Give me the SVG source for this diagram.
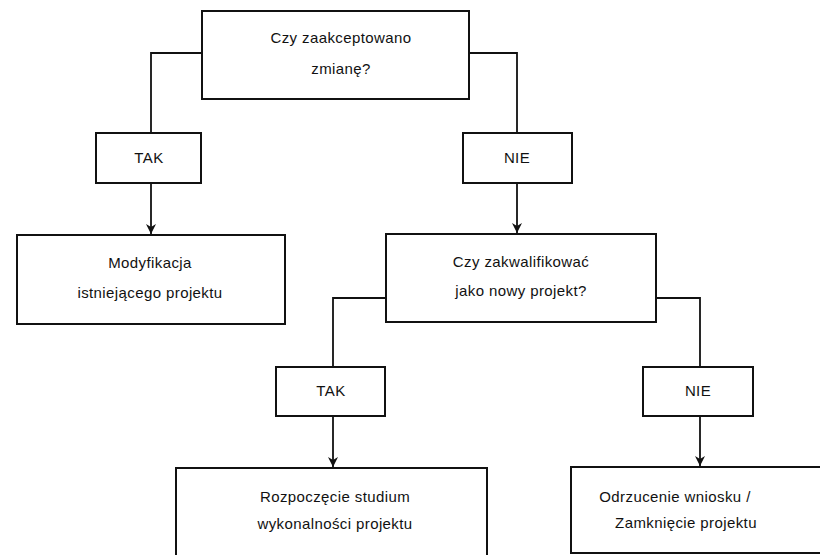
<svg xmlns="http://www.w3.org/2000/svg" width="820" height="555" viewBox="0 0 820 555">
  <style>
    .box { fill: #ffffff; stroke: #111111; stroke-width: 2; }
    .lbl { font-family: "Liberation Sans", Arial, sans-serif; font-size: 15px; letter-spacing: 0.4px; fill: #111111; text-anchor: middle; }
    .con { fill: none; stroke: #111111; stroke-width: 1.8; }
  </style>
  <defs>
    <marker id="arr" markerUnits="userSpaceOnUse" markerWidth="10" markerHeight="12" refX="10" refY="5" orient="auto">
      <path d="M0,0 L10,5 L0,10 L3,5 Z" fill="#111111"/>
    </marker>
  </defs>
  <rect width="820" height="555" fill="#ffffff"/>

  <g id="connectors">
    <polyline class="con" points="202,53 151,53 151,133"/>
    <line class="con" x1="151" y1="183" x2="151" y2="234" marker-end="url(#arr)"/>
    <polyline class="con" points="469,53 517,53 517,133"/>
    <line class="con" x1="517" y1="183" x2="517" y2="233" marker-end="url(#arr)"/>
    <polyline class="con" points="386,298 333,298 333,367"/>
    <line class="con" x1="333" y1="416" x2="333" y2="467" marker-end="url(#arr)"/>
    <polyline class="con" points="656,298 700,298 700,367"/>
    <line class="con" x1="700" y1="416" x2="700" y2="466" marker-end="url(#arr)"/>
  </g>

  <g id="q1">
    <rect class="box" x="202" y="11" width="267" height="88"/>
    <text class="lbl" x="341" y="43">Czy zaakceptowano</text>
    <text class="lbl" x="341" y="74">zmianę?</text>
  </g>

  <g id="tak1">
    <rect class="box" x="96" y="133" width="105" height="50"/>
    <text class="lbl" x="149" y="163">TAK</text>
  </g>

  <g id="nie1">
    <rect class="box" x="463" y="133" width="109" height="50"/>
    <text class="lbl" x="517" y="163">NIE</text>
  </g>

  <g id="modyfikacja">
    <rect class="box" x="17" y="235" width="268" height="89"/>
    <text class="lbl" x="150" y="268">Modyfikacja</text>
    <text class="lbl" x="150" y="298">istniejącego projektu</text>
  </g>

  <g id="q2">
    <rect class="box" x="386" y="234" width="270" height="88"/>
    <text class="lbl" x="521" y="267">Czy zakwalifikować</text>
    <text class="lbl" x="521" y="296">jako nowy projekt?</text>
  </g>

  <g id="tak2">
    <rect class="box" x="276" y="367" width="109" height="49"/>
    <text class="lbl" x="331" y="396">TAK</text>
  </g>

  <g id="nie2">
    <rect class="box" x="643" y="367" width="110" height="49"/>
    <text class="lbl" x="698" y="396">NIE</text>
  </g>

  <g id="rozpoczecie">
    <rect class="box" x="176" y="468" width="311" height="100"/>
    <text class="lbl" x="335" y="502">Rozpoczęcie studium</text>
    <text class="lbl" x="335" y="529">wykonalności projektu</text>
  </g>

  <g id="odrzucenie">
    <rect class="box" x="571" y="467" width="260" height="86"/>
    <text class="lbl" x="675" y="502">Odrzucenie wniosku /</text>
    <text class="lbl" x="686" y="528">Zamknięcie projektu</text>
  </g>
</svg>
